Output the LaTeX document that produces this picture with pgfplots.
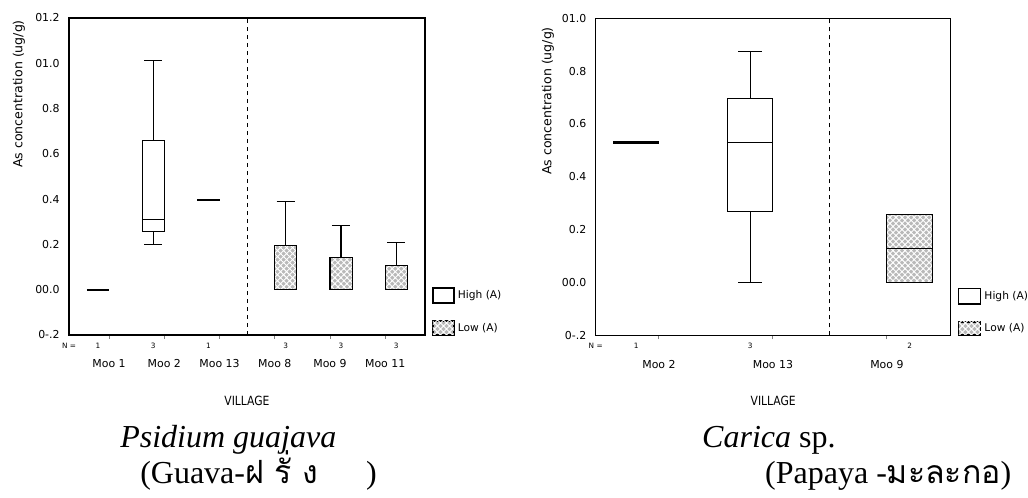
\documentclass[border=0pt]{standalone}
\usepackage{pgfplots}
\pgfplotsset{compat=1.18}
\usepgfplotslibrary{statistics}
\usetikzlibrary{patterns.meta}
\usepackage{fontspec}
\setmainfont{Liberation Serif}
\newfontfamily\sans{DejaVu Sans}
\newfontfamily\thaifont[Script=Thai]{Loma}
\begin{document}
\begin{tikzpicture}
\path (0pt,0pt) rectangle (771pt,-373.5pt);
\pgfplotsset{
  spss/.style={
    scale only axis, anchor=south west, clip=false,
    ymin=-0.2, ymax=1.2,
    axis line style={line width=0.8pt},
    tick align=outside, xtick pos=bottom, ytick pos=left,
    ytick style={draw=none}, xtick style={line width=0.7pt},
    major tick length=3pt,
    yticklabel style={font=\sans\fontsize{8.2}{9}\selectfont, xshift=-0.5pt},
    xticklabel style={font=\sans\fontsize{8.2}{9}\selectfont, yshift=-12pt},
    boxplot/draw direction=y,
  },
  hibox/.style={black, line width=0.8pt, fill=white},
  lobox/.style={black, line width=0.8pt,
    boxplot/every box/.style={fill=gray!55,
      postaction={pattern={Hatch[angle=45,distance=3.2pt,line width=0.7pt]}, pattern color=white}}},
}
% ---------------- left chart: Psidium guajava
\begin{axis}[spss, at={(51.75pt,-251.25pt)}, width=267pt, height=237.75pt,
  xmin=-0.725, xmax=5.72, ymin=-0.2, ymax=1.2,
  xtick={0,1,2,3,4,5},
  xticklabels={Moo 1,Moo 2,Moo 13,Moo 8,Moo 9,Moo 11},
  ytick={-0.2,0,0.2,0.4,0.6,0.8,1.0,1.2},
  yticklabels={0-.2,00.0,0.2,0.4,0.6,0.8,01.0,01.2}]
\addplot[black, line width=1.6pt] coordinates {(-0.4,0) (0,0)};
\addplot[hibox, boxplot prepared={draw position=0.8, lower whisker=0.199, lower quartile=0.258,
  median=0.311, upper quartile=0.660, upper whisker=1.011, box extend=0.4, whisker extend=0.33}] coordinates {};
\addplot[black, line width=1.6pt] coordinates {(1.6,0.398) (2.0,0.398)};
\addplot[lobox, boxplot prepared={draw position=3.2, lower whisker=0, lower quartile=0,
  median=0, upper quartile=0.195, upper whisker=0.389, box extend=0.4, whisker extend=0.33}] coordinates {};
\addplot[lobox, boxplot prepared={draw position=4.2, lower whisker=0, lower quartile=0,
  median=0, upper quartile=0.142, upper whisker=0.282, box extend=0.4, whisker extend=0.33}] coordinates {};
\addplot[lobox, boxplot prepared={draw position=5.2, lower whisker=0, lower quartile=0,
  median=0, upper quartile=0.106, upper whisker=0.208, box extend=0.4, whisker extend=0.33}] coordinates {};
\addplot[black, dashed, line width=0.7pt] coordinates {(2.5,-0.2) (2.5,1.2)};
\begin{scope}[font=\sans\fontsize{5.5}{6}\selectfont]
\node at (rel axis cs:0,0) [yshift=-8pt] {N =};
\node at (axis cs:-0.2,-0.2) [yshift=-8pt] {1};
\node at (axis cs:0.8,-0.2) [yshift=-8pt] {3};
\node at (axis cs:1.8,-0.2) [yshift=-8pt] {1};
\node at (axis cs:3.2,-0.2) [yshift=-8pt] {3};
\node at (axis cs:4.2,-0.2) [yshift=-8pt] {3};
\node at (axis cs:5.2,-0.2) [yshift=-8pt] {3};
\end{scope}
\node at (rel axis cs:0.5,0) [yshift=-49.3pt, font=\sans\fontsize{9.5}{10}\selectfont] {\scalebox{0.85}[1]{VILLAGE}};
\end{axis}
% ---------------- right chart: Carica sp.
\begin{axis}[spss, at={(446.8pt,-251.5pt)}, width=266.25pt, height=237.75pt,
  xmin=-0.555, xmax=2.56, ymin=-0.2, ymax=1.0,
  xtick={0,1,2},
  xticklabels={Moo 2,Moo 13,Moo 9},
  ytick={-0.2,0,0.2,0.4,0.6,0.8,1.0},
  yticklabels={0-.2,00.0,0.2,0.4,0.6,0.8,01.0}]
\addplot[black, line width=1.6pt] coordinates {(-0.4,0.53) (0,0.53)};
\addplot[hibox, boxplot prepared={draw position=0.8, lower whisker=0, lower quartile=0.268,
  median=0.530, upper quartile=0.698, upper whisker=0.873, box extend=0.4, whisker extend=0.21}] coordinates {};
\addplot[lobox, boxplot prepared={draw position=2.2, lower whisker=0, lower quartile=0,
  median=0.130, upper quartile=0.257, upper whisker=0.257, box extend=0.4, whisker extend=0.21}] coordinates {};
\addplot[black, dashed, line width=0.7pt] coordinates {(1.5,-0.2) (1.5,1.0)};
\begin{scope}[font=\sans\fontsize{5.5}{6}\selectfont]
\node at (rel axis cs:0,0) [yshift=-8pt] {N =};
\node at (axis cs:-0.2,-0.2) [yshift=-8pt] {1};
\node at (axis cs:0.8,-0.2) [yshift=-8pt] {3};
\node at (axis cs:2.2,-0.2) [yshift=-8pt] {2};
\end{scope}
\node at (rel axis cs:0.5,0) [yshift=-49.3pt, font=\sans\fontsize{9.5}{10}\selectfont] {\scalebox{0.85}[1]{VILLAGE}};
\end{axis}
% ---------------- y labels
\node[rotate=90, font=\sans\fontsize{9.4}{10}\selectfont] at (14.25pt,-70.5pt) {As concentration (ug/g)};
\node[rotate=90, font=\sans\fontsize{9.4}{10}\selectfont] at (411pt,-75.75pt) {As concentration (ug/g)};
% ---------------- legends
\begin{scope}[line width=0.8pt, font=\sans\fontsize{8}{9}\selectfont]
\draw[fill=white] (324.75pt,-216pt) rectangle (340.5pt,-227.25pt);
\node[anchor=west, inner sep=0pt] at (343pt,-221.6pt) {High (A)};
\draw[fill=gray!55, postaction={pattern={Hatch[angle=45,distance=3.2pt,line width=0.7pt]}, pattern color=white}]
  (324.75pt,-240.75pt) rectangle (340.5pt,-251.25pt);
\node[anchor=west, inner sep=0pt] at (343pt,-246pt) {Low (A)};
\draw[fill=white] (719.25pt,-216.5pt) rectangle (735.75pt,-228pt);
\node[anchor=west, inner sep=0pt] at (738pt,-222.2pt) {High (A)};
\draw[fill=gray!55, postaction={pattern={Hatch[angle=45,distance=3.2pt,line width=0.7pt]}, pattern color=white}]
  (719.25pt,-241.5pt) rectangle (735.75pt,-251.25pt);
\node[anchor=west, inner sep=0pt] at (738pt,-246.4pt) {Low (A)};
\end{scope}
% ---------------- captions
\node[anchor=base west, inner sep=0pt, font=\fontsize{24}{26}\selectfont] at (90pt,-336pt) {\itshape Psidium guajava};
\node[anchor=base west, inner sep=0pt, font=\fontsize{24}{26}\selectfont] at (105pt,-363pt) {(Guava-{\thaifont ฝ~รั่~ง}\hspace{1.5em})};
\node[anchor=base west, inner sep=0pt, font=\fontsize{24}{26}\selectfont] at (526.5pt,-336pt) {\textit{Carica} sp.};
\node[anchor=base west, inner sep=0pt, font=\fontsize{24}{26}\selectfont] at (573.75pt,-363pt) {(Papaya -{\thaifont มะละกอ})};
\end{tikzpicture}
\end{document}
